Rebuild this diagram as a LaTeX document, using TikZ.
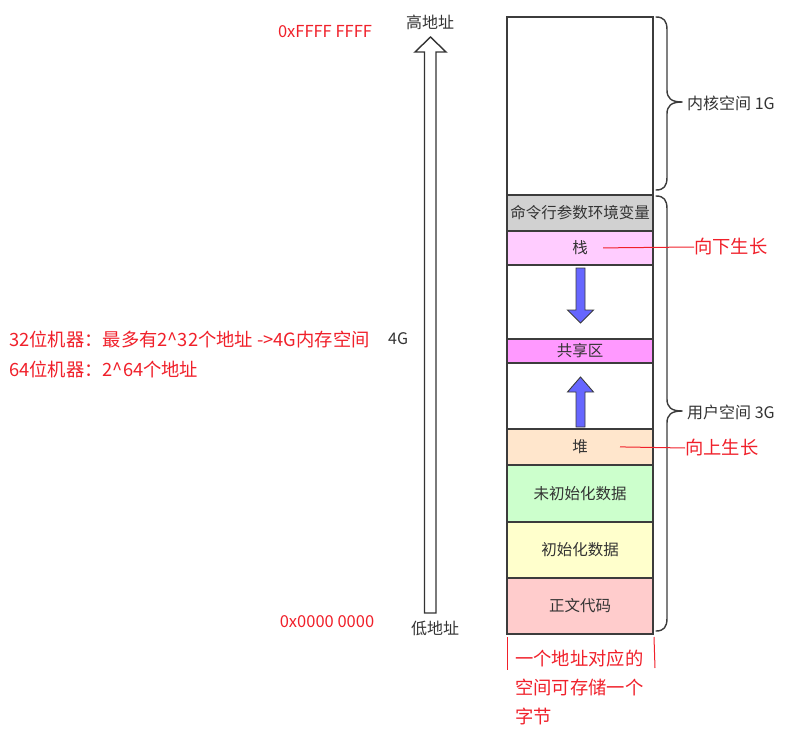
\documentclass[tikz,border=0pt]{standalone}
\usepackage{fontspec}
\setmainfont{Noto Sans CJK SC}
\definecolor{ink}{HTML}{3C3C3C}
\definecolor{txt}{HTML}{333333}
\definecolor{rd}{HTML}{F0202A}
\definecolor{blu}{HTML}{6666FF}
\tikzset{
  box/.style={draw=ink, line width=1.8pt, minimum width=146pt, inner sep=0pt, text=txt, font=\fontsize{15.5}{17}\selectfont, anchor=north},
  redtxt/.style={text=rd, font=\fontsize{18.3}{21}\selectfont, inner sep=0pt},
  graytxt/.style={text=txt, font=\fontsize{16}{18}\selectfont, inner sep=0pt},
  bracepath/.style={draw=ink, line width=1.4pt, line cap=round},
  growarrow/.style={fill=blu, draw=ink, line width=0.9pt, line join=miter},
}
\begin{document}
\begin{tikzpicture}[x=1pt,y=-1pt]
\useasboundingbox (0,0) rectangle (804,744);
% memory column
\node[box, minimum height=178pt, fill=white] (kernel) at (580,16) {};
\node[box, minimum height=36pt, fill=black!18] (args) at (580,194) {命令行参数环境变量};
\node[box, minimum height=34pt, fill={rgb,255:red,255;green,204;blue,255}] (stack) at (580,230) {栈};
\node[box, minimum height=74pt, fill=white] (gap1) at (580,264) {};
\node[box, minimum height=24pt, fill={rgb,255:red,255;green,153;blue,255}] (shared) at (580,338) {共享区};
\node[box, minimum height=66pt, fill=white] (gap2) at (580,362) {};
\node[box, minimum height=36pt, fill={rgb,255:red,255;green,230;blue,204}] (heap) at (580,428) {堆};
\node[box, minimum height=57pt, fill={rgb,255:red,204;green,255;blue,204}] (bss) at (580,464) {未初始化数据};
\node[box, minimum height=56pt, fill={rgb,255:red,255;green,255;blue,204}] (data) at (580,521) {初始化数据};
\node[box, minimum height=56pt, fill={rgb,255:red,255;green,204;blue,204}] (text) at (580,577) {正文代码};
% growth arrows
\draw[growarrow] (576,268) -- (585,268) -- (585,310) -- (593.5,310) -- (580.5,323) -- (567.5,310) -- (576,310) -- cycle;
\draw[growarrow] (576,427) -- (576,392) -- (567.5,392) -- (580.5,377) -- (593.5,392) -- (585,392) -- (585,427) -- cycle;
% braces
\draw[bracepath] (656,17) .. controls (664,17) and (667,21) .. (667,30) -- (667,90) .. controls (667,98) and (671,102) .. (682,102);
\draw[bracepath] (656,190) .. controls (664,190) and (667,186) .. (667,177) -- (667,114) .. controls (667,106) and (671,102) .. (682,102);
\draw[bracepath] (656,196) .. controls (664,196) and (667,200) .. (667,209) -- (667,399) .. controls (667,407) and (671,411) .. (682,411);
\draw[bracepath] (656,631) .. controls (664,631) and (667,627) .. (667,618) -- (667,423) .. controls (667,415) and (671,411) .. (682,411);
\node[graytxt, anchor=west] (klabel) at (687,103) {内核空间 1G};
\node[graytxt, anchor=west] (ulabel) at (687,412) {用户空间 3G};
% hollow address arrow
\draw[draw=txt, line width=1.4pt, fill=white, line join=miter] (424.5,613) -- (424.5,52) -- (415,52) -- (430.5,37) -- (446,52) -- (436,52) -- (436,613) -- cycle;
\node[graytxt] (high) at (430,22) {高地址};
\node[graytxt] (low) at (435,628) {低地址};
\node[redtxt, font=\fontsize{16.5}{19}\selectfont] (hex1) at (325,32) {0xFFFF FFFF};
\node[redtxt, font=\fontsize{16.5}{19}\selectfont] (hex0) at (327,622) {0x0000 0000};
\node[redtxt, anchor=west] (m32) at (9,339) {32位机器：最多有2\textasciicircum 32个地址 ->4G内存空间};
\node[graytxt, anchor=west] (four) at (388,339) {4G};
\node[redtxt, anchor=west] (m64) at (9,369) {64位机器：2\textasciicircum 64个地址};
% growth labels
\node[redtxt, anchor=west] (down) at (694,247) {向下生长};
\node[redtxt, anchor=west] (up) at (685,448) {向上生长};
\draw[rd, line width=1pt] ([xshift=23pt]stack.center) -- (down.west);
\draw[rd, line width=1pt] ([xshift=40pt]heap.center) -- (up.west);
% bottom note
\coordinate (nl1) at (507,637);
\coordinate (nl2) at (507,670);
\coordinate (nr1) at (654,637);
\coordinate (nr2) at (655,668);
\draw[rd, line width=1pt] (nl1) -- (nl2);
\draw[rd, line width=1pt] (nr1) -- (nr2);
\node[redtxt, anchor=north west, align=left, font=\fontsize{18.3}{29}\selectfont] (note) at (515,650) {一个地址对应的\\空间可存储一个\\字节};
\end{tikzpicture}
\end{document}
